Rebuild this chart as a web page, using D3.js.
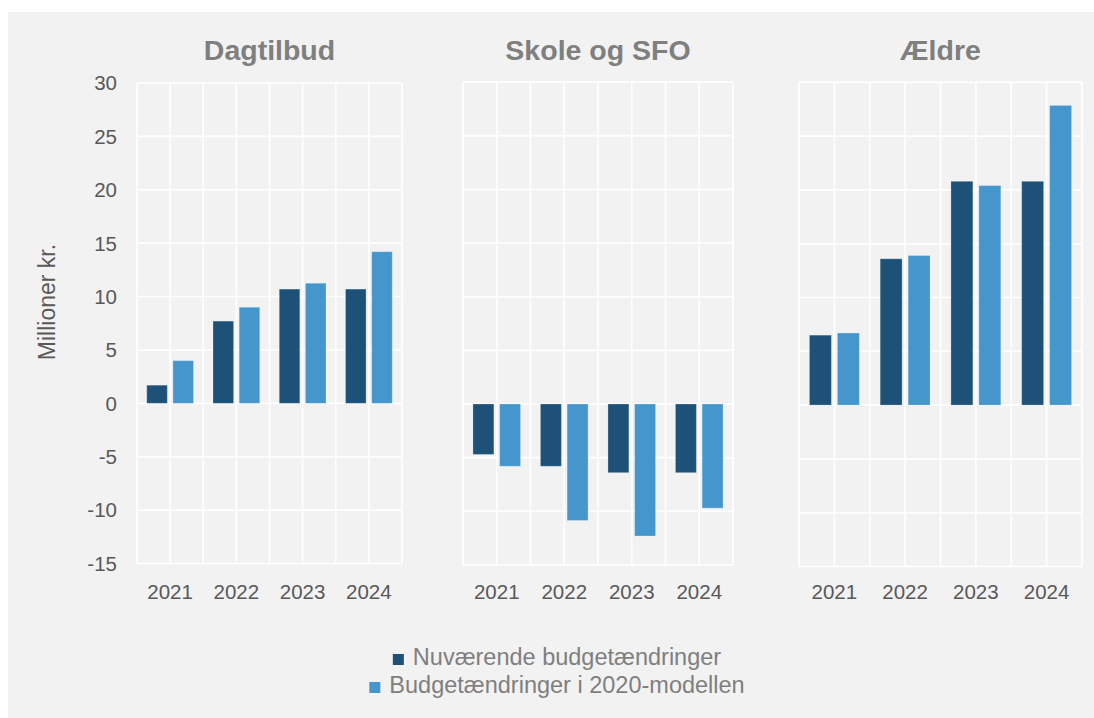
<!DOCTYPE html>
<html>
<meta http-equiv="content-type" content="text/html; charset=UTF8">
<style>
  body {margin:0; background:#fff;}
  text {font-family: "Liberation Sans", Arial, sans-serif;}
</style>
<body>
<svg id="svg1" width="1094" height="718"></svg>

<script src="https://cdn.jsdelivr.net/npm/d3@7"></script>
<script>
// data
var years=["2021","2022","2023","2024"];
var panels=["Dagtilbud","Skole og SFO","Ældre"];
var seriesNames=["Nuværende budgetændringer","Budgetændringer i 2020-modellen"];
var current=[
	[1.7, 7.7, 10.7, 10.7],
	[-4.7, -5.8, -6.4, -6.4],
	[6.5, 13.6, 20.8, 20.8]
];
var model=[
	[4.0, 9.0, 11.25, 14.2],
	[-5.8, -10.85, -12.3, -9.7],
	[6.7, 13.9, 20.4, 27.85]
];
var yTicks=[-15,-10,-5,0,5,10,15,20,25,30];

// layout of the three panels (left, right, top, bottom)
var boxes=[
	{x0:137, x1:402, y0:83, y1:563.5},
	{x0:463, x1:733, y0:82, y1:565},
	{x0:799, x1:1082, y0:82.3, y1:566.5}
];
var colors=["#1d5177","#4496cc"];

var svg=d3.select("#svg1");
svg.append("rect").attr("x",8).attr("y",12).attr("width",1086).attr("height",706).attr("fill","#f2f2f2");

panels.forEach(function(name,p){
	var b=boxes[p];
	var y=d3.scaleLinear().domain([-15,30]).range([b.y1,b.y0]);
	var x0=d3.scaleBand().domain(years).range([b.x0,b.x1]).padding(0);
	var x1=d3.scaleBand().domain([0,1]).range([0,x0.bandwidth()]).paddingInner(0.215).paddingOuter(0.373);
	var g=svg.append("g");

	// grid
	g.selectAll("line.h").data(yTicks).enter().append("line")
		.attr("x1",b.x0).attr("x2",b.x1)
		.attr("y1",function(d){return y(d)}).attr("y2",function(d){return y(d)})
		.attr("stroke","#fff").attr("stroke-width",1.6);
	var vx=[];
	years.forEach(function(yr){vx.push(x0(yr)); vx.push(x0(yr)+x0.bandwidth()/2);});
	vx.push(b.x1);
	g.selectAll("line.v").data(vx).enter().append("line")
		.attr("x1",function(d){return d}).attr("x2",function(d){return d})
		.attr("y1",b.y0).attr("y2",b.y1)
		.attr("stroke","#fff").attr("stroke-width",1.6);

	// bars
	var rows=[];
	years.forEach(function(yr,i){
		rows.push({year:yr, s:0, v:current[p][i]});
		rows.push({year:yr, s:1, v:model[p][i]});
	});
	g.selectAll("rect.bar").data(rows).enter().append("rect")
		.attr("x",function(d){return x0(d.year)+x1(d.s)})
		.attr("width",x1.bandwidth())
		.attr("y",function(d){return y(Math.max(0,d.v))})
		.attr("height",function(d){return Math.abs(y(d.v)-y(0))})
		.attr("fill",function(d){return colors[d.s]})
		.attr("stroke","#ffffff").attr("stroke-opacity",0.25).attr("stroke-width",1);

	// x labels
	g.selectAll("text.xl").data(years).enter().append("text")
		.attr("x",function(d){return x0(d)+x0.bandwidth()/2})
		.attr("y",599)
		.attr("text-anchor","middle")
		.attr("font-size","20.5px").attr("fill","#595959")
		.text(function(d){return d});

	// title
	g.append("text")
		.attr("x",(b.x0+b.x1)/2).attr("y",60)
		.attr("text-anchor","middle")
		.attr("font-size","28.5px").attr("font-weight","bold").attr("fill","#7f7f7f")
		.text(name);

	if (p==0) {
		g.selectAll("text.yl").data(yTicks).enter().append("text")
			.attr("x",117).attr("y",function(d){return y(d)})
			.attr("dy","0.36em")
			.attr("text-anchor","end")
			.attr("font-size","20.5px").attr("fill","#595959")
			.text(function(d){return d});
		g.append("text")
			.attr("transform","translate(55,302) rotate(-90)")
			.attr("text-anchor","middle")
			.attr("font-size","23px").attr("fill","#595959")
			.text("Millioner kr.");
	}
});

// legend, two centred rows
var lg=svg.append("g");
seriesNames.forEach(function(n,i){
	var row=lg.append("g");
	var t=row.append("text").attr("x",20).attr("y",665+i*28)
		.attr("font-size","23.5px").attr("fill","#7f7f7f").text(n);
	row.append("rect").attr("x",0).attr("y",655+i*28-1).attr("width",11).attr("height",11).attr("fill",colors[i]);
	var w=20+t.node().getComputedTextLength();
	row.attr("transform","translate("+(557-w/2)+",0)");
});
</script>
</html>
